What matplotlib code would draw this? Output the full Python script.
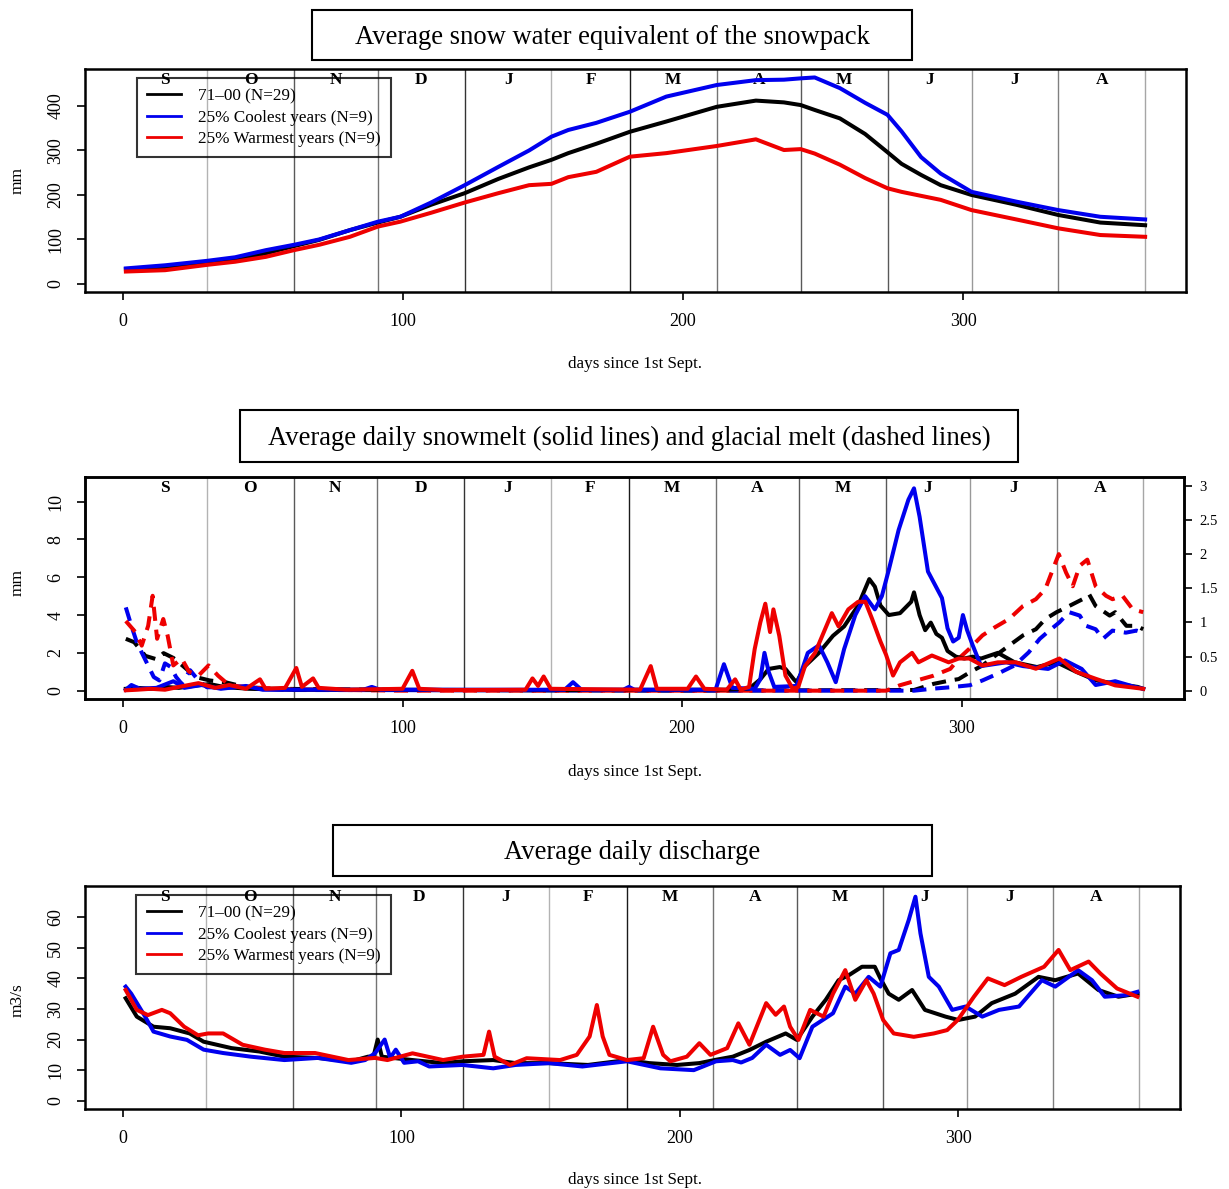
import matplotlib
matplotlib.use("Agg")
import matplotlib.pyplot as plt
from matplotlib.patches import Rectangle
from matplotlib.lines import Line2D

plt.rcParams["font.family"] = ["Liberation Serif", "DejaVu Serif"]

W, H = 1229, 1189

# ---- month layout (days since 1st Sept.) ----
month_ends = [30, 61, 91, 122, 153, 181, 212, 242, 273, 303, 334, 365]
month_labels = ["S", "O", "N", "D", "J", "F", "M", "A", "M", "J", "J", "A"]
month_shades = ["0.70", "0.35", "0.45", "0.20", "0.70", "0.10",
                "0.45", "0.35", "0.35", "0.60", "0.50", "0.65"]

series_names = ["71\u201300 (N=29)", "25% Coolest years (N=9)", "25% Warmest years (N=9)"]
series_colors = ["black", "#0000ee", "#ee0000"]

# ---- snow water equivalent (mm) ----
swe_days = [1, 15, 30, 40, 51, 61, 70, 81, 91, 99, 110, 122, 134, 145, 153, 159, 169,
            181, 194, 212, 226, 236, 242, 247, 256, 265, 273, 278, 285, 292, 303, 319,
            334, 349, 365]
swe_all = [33, 38, 46, 55, 69, 85, 99, 121, 138, 151, 178, 204, 236, 262, 279, 294, 315,
           342, 365, 398, 412, 408, 402, 391, 372, 337, 296, 270, 245, 222, 200, 178,
           155, 138, 132]
swe_cool = [35, 42, 52, 60, 76, 88, 100, 121, 140, 151, 183, 222, 263, 300, 331, 346, 362,
            387, 421, 447, 458, 459, 462, 464, 440, 407, 380, 343, 285, 248, 207, 185,
            166, 151, 145]
swe_warm = [28, 31, 43, 50, 61, 76, 88, 106, 129, 140, 160, 183, 204, 222, 225, 240, 252,
            286, 294, 310, 325, 301, 303, 293, 268, 238, 215, 207, 198, 189, 166, 145,
            125, 110, 106]

# ---- daily snowmelt (mm, left axis) ----
snow_all_days = [1, 5, 10, 15, 20, 25, 31, 36, 45, 60, 90, 150, 200, 215, 224, 228, 231,
                 235, 237, 240, 241, 244, 249, 254, 258, 263, 267, 269, 271, 274, 278,
                 282, 283, 285, 287, 289, 291, 293, 295, 298, 301, 304, 307, 313, 319,
                 327, 334, 341, 348, 355, 363, 365]
snow_all = [0.1, 0.15, 0.1, 0.2, 0.15, 0.25, 0.35, 0.2, 0.1, 0.05, 0.05, 0.03, 0.05, 0.05,
            0.1, 0.6, 1.15, 1.25, 1.15, 0.6, 0.45, 1.3, 2.0, 2.9, 3.4, 4.5, 5.9, 5.5, 4.5,
            4.0, 4.1, 4.7, 5.2, 4.0, 3.2, 3.6, 3.0, 2.8, 2.1, 1.8, 1.7, 1.8, 1.7, 2.0,
            1.5, 1.25, 1.5, 1.0, 0.55, 0.37, 0.2, 0.1]

snow_cool_days = [1, 3, 6, 12, 18, 22, 28, 35, 44, 50, 86, 89, 92, 158, 161, 164, 179, 181,
                  183, 212, 215, 218, 226, 228, 229.5, 231, 233, 241, 245, 249, 252, 255,
                  258, 262, 265.5, 269, 271.5, 274, 277.5, 281, 283, 285, 288, 290.5, 293,
                  295, 297, 299, 300.5, 302, 304, 307, 316, 322, 331, 337, 343, 348, 355,
                  362, 365]
snow_cool = [0.05, 0.3, 0.1, 0.15, 0.5, 0.15, 0.3, 0.1, 0.25, 0.05, 0.05, 0.2, 0.05, 0.05,
             0.45, 0.05, 0.05, 0.2, 0.05, 0.05, 1.4, 0.15, 0.1, 0.6, 2.0, 1.0, 0.2, 0.25,
             2.0, 2.4, 1.5, 0.45, 2.2, 4.0, 5.0, 4.3, 5.0, 6.4, 8.5, 10.1, 10.7, 9.2, 6.3,
             5.6, 4.9, 3.3, 2.6, 2.8, 4.0, 3.2, 2.4, 1.3, 1.5, 1.3, 1.15, 1.6, 1.15, 0.3,
             0.5, 0.2, 0.1]

snow_warm_days = [1, 5, 10, 15, 20, 27, 33, 38, 44, 49, 51, 58, 62, 64, 68, 70, 80, 100,
                  103.5, 106, 115, 144, 146.5, 148.5, 150.5, 153, 185, 188.8, 191, 202, 205,
                  208, 216, 219, 221, 224, 226, 228, 229.8, 231.5, 232.7, 234.8, 237,
                  239.6, 241.6, 244, 247.6, 253.6, 256, 259.5, 263, 265.6, 268, 271, 273,
                  275.5, 278, 282.3, 284.6, 289.4, 295.4, 299, 302.8, 307.5, 313, 319.4,
                  326.6, 335, 341, 348, 355, 365]
snow_warm = [0.02, 0.05, 0.1, 0.05, 0.2, 0.4, 0.15, 0.3, 0.1, 0.6, 0.1, 0.15, 1.2, 0.2,
             0.65, 0.15, 0.05, 0.1, 1.05, 0.1, 0.03, 0.05, 0.65, 0.25, 0.75, 0.1, 0.05,
             1.3, 0.1, 0.1, 0.75, 0.1, 0.05, 0.6, 0.05, 0.2, 2.2, 3.6, 4.6, 3.1, 4.3, 2.9,
             0.8, 0.1, 0.2, 1.3, 2.0, 4.1, 3.4, 4.3, 4.7, 4.7, 3.8, 2.6, 1.9, 0.8, 1.5,
             2.0, 1.5, 1.86, 1.5, 1.7, 1.7, 1.33, 1.5, 1.5, 1.16, 1.7, 1.0, 0.63, 0.28,
             0.1]

# ---- daily glacial melt (right axis) ----
glac_all_days = [1, 4, 8, 12, 14.5, 18, 21.5, 26, 31, 37, 42, 50, 100, 200, 283, 290, 296,
                 299, 303, 307.5, 312, 317, 322, 326.6, 330, 334, 338.5, 343.3, 345.7, 348,
                 353, 355, 359, 362.6, 365]
glac_all = [0.76, 0.71, 0.51, 0.46, 0.55, 0.48, 0.36, 0.2, 0.15, 0.12, 0.07, 0.03, 0.01,
            0.0, 0.01, 0.1, 0.15, 0.17, 0.27, 0.37, 0.51, 0.66, 0.81, 0.9, 1.05, 1.15,
            1.24, 1.34, 1.41, 1.24, 1.1, 1.15, 0.95, 0.95, 0.9]

glac_cool_days = [1, 3, 5, 8, 11, 13, 15, 17, 19, 21, 24, 27, 30, 40, 60, 283, 290, 296,
                  303, 307.5, 313, 319, 324, 328, 331.4, 335, 338.5, 342.3, 344.6, 348,
                  350.6, 354, 358.8, 362.6, 365]
glac_cool = [1.22, 0.95, 0.7, 0.45, 0.2, 0.15, 0.4, 0.35, 0.2, 0.1, 0.3, 0.15, 0.05, 0.05,
             0.01, 0.0, 0.03, 0.05, 0.08, 0.15, 0.25, 0.37, 0.56, 0.76, 0.88, 1.0, 1.15,
             1.1, 0.95, 0.9, 0.76, 0.88, 0.85, 0.88, 0.85]

glac_warm_days = [1, 4.4, 6.7, 9, 10.6, 12.2, 14.4, 16, 18, 21, 23.6, 27, 30.6, 34, 38, 45,
                  60, 100, 273, 278, 284, 290, 296, 299, 302.7, 307.5, 312, 317, 322,
                  326.6, 330, 332.7, 334.8, 337.4, 339.8, 342.3, 345, 348, 351.7, 354,
                  357.6, 361.3, 365]
glac_warm = [1.02, 0.86, 0.66, 0.95, 1.39, 0.76, 1.05, 0.8, 0.37, 0.47, 0.28, 0.22, 0.37,
             0.22, 0.08, 0.05, 0.02, 0.0, 0.0, 0.08, 0.15, 0.22, 0.32, 0.47, 0.61, 0.81,
             0.93, 1.05, 1.24, 1.34, 1.49, 1.78, 2.0, 1.73, 1.53, 1.83, 1.92, 1.53, 1.39,
             1.34, 1.39, 1.19, 1.15]

# ---- daily discharge (m3/s) ----
q_all_days = [1, 5, 11, 17, 24, 29, 39, 49, 58, 70, 82, 88, 90, 91.5, 93, 104, 115, 122,
              133, 141, 153, 167, 181, 189, 199, 207, 213, 219, 225, 231, 238, 242, 247.6,
              252.4, 257, 260.6, 265.4, 270, 272, 275, 278.6, 283.4, 288, 295.4, 300, 306,
              312, 320.4, 328.8, 334.8, 343, 350.3, 357.5, 364.3]
q_all = [33.5, 27.5, 24.2, 23.7, 22, 19.3, 17.2, 16.1, 14.4, 14, 12.9, 14.4, 14.5, 20,
         14.4, 13.3, 12.3, 12.9, 13.3, 12.3, 12.3, 11.7, 13.3, 12.3, 11.7, 12.3, 13.4, 14.4,
         16.6, 19.3, 22, 19.9, 27.5, 33, 39.4, 41, 43.8, 43.8, 40, 35, 33, 36.2, 29.7, 27.5,
         26.4, 27.5, 31.9, 35, 40.5, 39.4, 41.6, 36.2, 34, 35]

q_cool_days = [1, 3, 8, 11, 17, 23, 29, 36, 46, 58, 70, 82, 87, 90.6, 94, 96, 98, 101, 106,
               110, 122, 133, 141, 153, 165, 181, 193, 205, 213, 219, 222, 226, 231, 236,
               239.6, 243, 247.6, 255, 259.4, 263, 267.8, 272, 275.6, 278.6, 282.2, 284.6,
               286.4, 289.4, 293, 297.8, 302.6, 308.6, 314.6, 321.8, 330, 334.8, 343, 348,
               352.6, 360, 364.3]
q_cool = [37.3, 35, 27.5, 22.6, 21, 19.9, 16.7, 15.6, 14.4, 13.3, 14, 12.4, 13.3, 15.6, 20,
          14, 16.7, 12.4, 12.9, 11.2, 11.7, 10.6, 11.7, 12.3, 11.2, 12.9, 10.6, 10, 12.9,
          13.3, 12.5, 14, 18.3, 15, 16.6, 13.9, 24.2, 28.6, 37.3, 35, 40.5, 37.3, 48.2,
          49.3, 59.1, 66.7, 54.7, 40.5, 37.3, 29.7, 30.8, 27.5, 29.7, 30.8, 39.4, 37.3,
          42.7, 39.4, 34, 34.5, 35.6]

q_warm_days = [1, 5, 9, 14, 17, 22, 27, 30.6, 36, 43, 51, 58, 69, 81, 90.6, 95, 104, 115,
               122, 129.5, 131.5, 133.5, 139, 145, 157, 163, 167.6, 170.2, 172.3, 174.7,
               181, 187, 190.4, 194, 196.6, 202.5, 207, 211, 217, 221, 225, 231, 234.4,
               237.4, 239.6, 242.6, 246.8, 251.6, 255, 259.4, 263, 267, 269.6, 273, 276.8,
               284, 291.2, 296, 299.8, 305.6, 310.6, 316.6, 322.6, 330.8, 336, 340.2,
               346.8, 351, 357, 364.3]
q_warm = [36.2, 29.7, 28, 29.7, 28.6, 24.2, 21.4, 22, 22, 18.3, 16.7, 15.6, 15.6, 13.3, 14,
          13.3, 15.5, 13.3, 14.4, 15, 22.6, 14.4, 11.7, 13.9, 13.3, 15, 21, 31.3, 21, 15,
          13.3, 13.9, 24.2, 15, 12.9, 14.4, 18.8, 15, 17.2, 25.3, 18.3, 31.9, 28.1, 30.8,
          24.2, 19.9, 29.7, 27.5, 35, 42.7, 33, 39.4, 35, 26.4, 22, 20.9, 22, 23.1, 26.4,
          34, 40, 37.8, 40.5, 43.8, 49.3, 42.7, 45.5, 41.6, 36.7, 34]

XLIM = (-13.6, 379.6)
LW = 2.9


def fig_box(px_left, px_top, px_right, px_bottom):
    return [px_left / W, 1 - px_bottom / H, (px_right - px_left) / W,
            (px_bottom - px_top) / H]


def title_box(fig, text, px_left, px_top, px_right, px_bottom):
    x0, y0, w, h = fig_box(px_left, px_top, px_right, px_bottom)
    fig.add_artist(Rectangle((x0, y0), w, h, transform=fig.transFigure,
                             facecolor="white", edgecolor="black", lw=1.5))
    fig.text(x0 + w / 2, y0 + h / 2 - 0.002, text, ha="center", va="center",
             fontsize=19.2)


def setup_axis(ax, ylim, yticks, ylabel, px_mid_y):
    ax.set_xlim(*XLIM)
    ax.set_ylim(*ylim)
    ax.set_xticks([0, 100, 200, 300])
    ax.set_yticks(yticks)
    ax.tick_params(direction="out", length=6, width=1.2, labelsize=13, pad=9)
    ax.tick_params(axis="y", labelrotation=90)
    for lab in ax.get_yticklabels():
        lab.set_va("center")
    for sp in ax.spines.values():
        sp.set_linewidth(1.8)
    start = 0
    for end, lab, shade in zip(month_ends, month_labels, month_shades):
        ax.axvline(end, color=shade, lw=1.0, zorder=1)
        ax.text((start + end) / 2, 0.985, lab, transform=ax.get_xaxis_transform(),
                ha="center", va="top", fontsize=12.5, fontweight="bold")
        start = end
    fig.text(18 / W, 1 - px_mid_y / H, ylabel, rotation=90, ha="center", va="center",
             fontsize=12.5)


def add_legend(ax):
    handles = [Line2D([], [], color=c, lw=2.0) for c in series_colors]
    leg = ax.legend(handles, series_names, loc="upper left",
                    bbox_to_anchor=(0.047, 0.96), fontsize=12.3, frameon=True,
                    fancybox=False, edgecolor="black", facecolor="none",
                    handlelength=2.0, handletextpad=1.0, labelspacing=0.32,
                    borderpad=0.6, borderaxespad=0)
    leg.get_frame().set_linewidth(1.5)


fig = plt.figure(figsize=(W / 100, H / 100), dpi=100)

# panel 1: snow water equivalent
ax1 = fig.add_axes(fig_box(85, 69, 1186, 292))
setup_axis(ax1, (-18, 483), [0, 100, 200, 300, 400], "mm", 180)
for d, v, c in zip([swe_days] * 3, [swe_all, swe_cool, swe_warm], series_colors):
    ax1.plot(d, v, color=c, lw=LW, zorder=3)
add_legend(ax1)
title_box(fig, "Average snow water equivalent of the snowpack", 312, 10, 912, 60)
fig.text(635 / W, 1 - 364 / H, "days since 1st Sept.", ha="center", va="center",
         fontsize=12.3)

# panel 2: snowmelt (solid, left) and glacial melt (dashed, right)
ax2 = fig.add_axes(fig_box(85, 477, 1184, 699))
setup_axis(ax2, (-0.44, 11.3), [0, 2, 4, 6, 8, 10], "mm", 583)
ax2r = ax2.twinx()
ax2r.set_ylim(-0.44 / 3.61, 11.3 / 3.61)
ax2r.set_yticks([0, 0.5, 1, 1.5, 2, 2.5, 3])
ax2r.set_yticklabels(["0", "0.5", "1", "1.5", "2", "2.5", "3"])
ax2r.tick_params(direction="out", length=6, width=1.2, labelsize=10.5, pad=5)
for sp in ax2r.spines.values():
    sp.set_linewidth(1.8)
for d, v, c in zip([glac_all_days, glac_cool_days, glac_warm_days],
                   [glac_all, glac_cool, glac_warm], series_colors):
    ax2r.plot(d, v, color=c, lw=LW, dashes=(3.5, 2.2), zorder=3)
for d, v, c in zip([snow_all_days, snow_cool_days, snow_warm_days],
                   [snow_all, snow_cool, snow_warm], series_colors):
    ax2r.plot(d, [x / 3.61 for x in v], color=c, lw=LW, zorder=3)
title_box(fig, "Average daily snowmelt (solid lines) and glacial melt (dashed lines)",
          240, 410, 1018, 462)
fig.text(635 / W, 1 - 772 / H, "days since 1st Sept.", ha="center", va="center",
         fontsize=12.3)

# panel 3: discharge
ax3 = fig.add_axes(fig_box(85, 886, 1180, 1109))
setup_axis(ax3, (-2.7, 70.2), [0, 10, 20, 30, 40, 50, 60], "m3/s", 1000)
for d, v, c in zip([q_all_days, q_cool_days, q_warm_days], [q_all, q_cool, q_warm],
                   series_colors):
    ax3.plot(d, v, color=c, lw=LW, zorder=3)
add_legend(ax3)
title_box(fig, "Average daily discharge", 333, 825, 932, 876)
fig.text(635 / W, 1 - 1180 / H, "days since 1st Sept.", ha="center", va="center",
         fontsize=12.3)

fig.savefig("out.png", dpi=100)
